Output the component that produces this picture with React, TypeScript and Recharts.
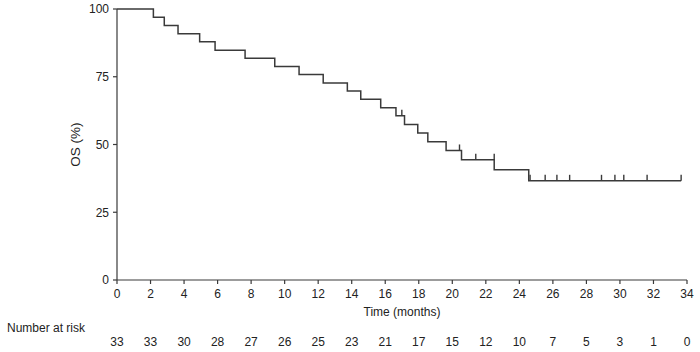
import React from "react";
import { ComposedChart, Line, Scatter, XAxis, YAxis } from "recharts";

// event times (months) and survival (%) just after each drop
const eventMonths = [
  2.17, 2.82, 3.64, 4.93, 5.85, 7.64, 9.41, 10.86, 12.3, 13.74, 14.54, 15.73,
  16.64, 17.15, 17.94, 18.54, 19.63, 20.55, 22.5, 24.56,
];
const survivalPct = [
  97.0, 93.9, 90.9, 87.9, 84.8, 81.8, 78.8, 75.8, 72.7, 69.7, 66.7, 63.6,
  60.6, 57.4, 54.2, 51.0, 47.8, 44.4, 40.7, 36.6,
];

// censored patients (tick marks)
const censorMonths = [
  16.99, 20.43, 21.4, 22.5, 24.64, 25.54, 26.24, 27.0, 28.9, 29.7, 30.23,
  31.62, 33.65,
];
const censorPct = [
  60.6, 47.8, 44.4, 44.4, 36.6, 36.6, 36.6, 36.6, 36.6, 36.6, 36.6, 36.6,
  36.6,
];

const timeTicks = [0, 2, 4, 6, 8, 10, 12, 14, 16, 18, 20, 22, 24, 26, 28, 30, 32, 34];
const numberAtRisk = [33, 33, 30, 28, 27, 26, 25, 23, 21, 17, 15, 12, 10, 7, 5, 3, 1, 0];
const osTicks = [0, 25, 50, 75, 100];
const lastFollowUp = 33.65;

const curve = [
  { t: 0, s: 100 },
  ...eventMonths.map((t, i) => ({ t, s: survivalPct[i] })),
  { t: lastFollowUp, s: survivalPct[survivalPct.length - 1] },
];
const censored = censorMonths.map((t, i) => ({ t, s: censorPct[i] }));

const font = '"Liberation Sans", Arial, sans-serif';
const ink = "#222";
const lineColor = "#3a3a3a";

const CensorTick = (props: any) => {
  const { cx, cy } = props;
  return <line x1={cx} x2={cx} y1={cy - 6} y2={cy} stroke={lineColor} strokeWidth={1.4} />;
};

const TimeTick = (props: any) => {
  const { x, y, payload } = props;
  const i = timeTicks.indexOf(payload.value);
  return (
    <g fontFamily={font} fontSize={12} fill={ink}>
      <text x={x} y={y + 12} textAnchor="middle">
        {payload.value}
      </text>
      <text x={x} y={y + 60} textAnchor="middle">
        {numberAtRisk[i]}
      </text>
      {payload.value === 0 && (
        <text x={7} y={y + 46} textAnchor="start">
          Number at risk
        </text>
      )}
    </g>
  );
};

export default function App() {
  return (
    <div style={{ position: "absolute", left: 0, top: 0, width: 700, height: 352, background: "#fff" }}>
      <ComposedChart width={700} height={352} margin={{ top: 9, right: 13, left: 0, bottom: 0 }}>
        <XAxis
          type="number"
          dataKey="t"
          domain={[0, 34]}
          ticks={timeTicks}
          interval={0}
          height={72}
          stroke={lineColor}
          strokeWidth={1.2}
          tickSize={4}
          tick={TimeTick}
          label={{
            value: "Time (months)",
            position: "insideBottom",
            offset: 36,
            fill: ink,
            fontSize: 12,
            fontFamily: font,
          }}
        />
        <YAxis
          type="number"
          dataKey="s"
          domain={[0, 100]}
          ticks={osTicks}
          interval={0}
          width={117}
          stroke={lineColor}
          strokeWidth={1.2}
          tickSize={4}
          tickMargin={4}
          tick={{ fill: ink, fontSize: 12, fontFamily: font }}
          label={{
            value: "OS (%)",
            angle: -90,
            position: "center",
            dx: 17,
            fill: ink,
            fontSize: 13.5,
            fontFamily: font,
          }}
        />
        <Line
          data={curve}
          dataKey="s"
          type="stepAfter"
          stroke={lineColor}
          strokeWidth={1.5}
          dot={false}
          activeDot={false}
          isAnimationActive={false}
        />
        <Scatter data={censored} dataKey="s" shape={CensorTick} isAnimationActive={false} />
      </ComposedChart>
    </div>
  );
}
